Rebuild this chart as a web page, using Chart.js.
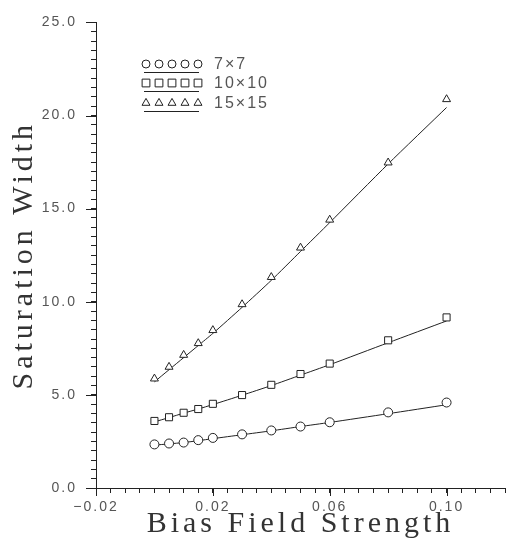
<!DOCTYPE html>
<html>
<head>
<meta charset="utf-8">
<script src="https://cdn.jsdelivr.net/npm/chart.js@4/dist/chart.umd.min.js"></script>
<style>
  html, body { margin: 0; padding: 0; background: #fff; }
  #wrap { width: 511px; height: 544px; }
</style>
</head>
<body>
<div id="wrap"><canvas id="c"></canvas></div>
<script>
// ── Data ──────────────────────────────────────────────────────────────────────
const biasField = [0.0, 0.005, 0.01, 0.015, 0.02, 0.03, 0.04, 0.05, 0.06, 0.08, 0.10];

const width7  = [2.34, 2.39, 2.44, 2.57, 2.69, 2.88, 3.09, 3.30, 3.53, 4.06, 4.59];
const width10 = [3.60, 3.80, 4.04, 4.24, 4.52, 4.99, 5.54, 6.12, 6.68, 7.93, 9.16];
const width15 = [5.87, 6.50, 7.14, 7.77, 8.47, 9.86, 11.32, 12.90, 14.40, 17.47, 20.87];

// fitted curves drawn through the symbols
const fit7  = [2.30, 2.37, 2.44, 2.54, 2.65, 2.86, 3.07, 3.30, 3.52, 3.99, 4.47];
const fit10 = [3.55, 3.78, 4.02, 4.24, 4.48, 4.98, 5.50, 6.06, 6.62, 7.80, 8.97];
const fit15 = [5.70, 6.35, 7.00, 7.65, 8.30, 9.70, 11.15, 12.70, 14.25, 17.40, 20.43];

const seriesLabels = ['7×7', '10×10', '15×15'];
const xLabelTicks  = [-0.02, 0.02, 0.06, 0.10];
const yLabelTicks  = [0, 5, 10, 15, 20, 25];

const INK   = '#222';
const LABEL = '#555';

const pts = ys => biasField.map((x, i) => ({ x, y: ys[i] }));

function markerSet(label, ys, style, radius) {
  return {
    label, data: pts(ys), showLine: false,
    pointStyle: style, pointRadius: radius, pointHoverRadius: radius,
    pointBorderColor: INK, pointBackgroundColor: '#fff', pointBorderWidth: 1,
  };
}
function fitSet(ys) {
  return {
    label: '', data: pts(ys), showLine: true, pointRadius: 0,
    borderColor: INK, borderWidth: 1, tension: 0.2, fill: false,
  };
}

const isLabelX = v => xLabelTicks.some(t => Math.abs(t - v) < 1e-6);
const isLabelY = v => yLabelTicks.some(t => Math.abs(t - v) < 1e-6);

// ── Plugins: letter spacing, longer major ticks, stacked-symbol legend ────────
const spacing = {
  id: 'spacing',
  beforeDraw(chart) {
    chart.ctx.letterSpacing = '2px';
    // axis titles are spaced wider than tick labels
    Object.values(chart.scales).forEach(s => {
      if (s._wideTitle) return;
      const orig = s.drawTitle;
      s.drawTitle = function () {
        const prev = this.ctx.letterSpacing;
        this.ctx.letterSpacing = '4px';
        orig.apply(this, arguments);
        this.ctx.letterSpacing = prev;
      };
      s._wideTitle = true;
    });
  },
};

const majorTicks = {
  id: 'majorTicks',
  afterDraw(chart) {
    const { ctx, scales: { x, y }, chartArea } = chart;
    ctx.save();
    ctx.strokeStyle = INK;
    ctx.lineWidth = 1;
    ctx.beginPath();
    xLabelTicks.forEach(v => {
      const px = Math.round(x.getPixelForValue(v)) + 0.5;
      ctx.moveTo(px, chartArea.bottom);
      ctx.lineTo(px, chartArea.bottom + 8);
    });
    yLabelTicks.forEach(v => {
      const py = Math.round(y.getPixelForValue(v)) + 0.5;
      ctx.moveTo(chartArea.left, py);
      ctx.lineTo(chartArea.left - 10, py);
    });
    ctx.stroke();
    ctx.restore();
  }
};

const symbolLegend = {
  id: 'symbolLegend',
  afterDraw(chart) {
    const { ctx } = chart;
    const rows = [
      { style: 'circle',   r: 4,   y: 64 },
      { style: 'rect',     r: 5.5, y: 83 },
      { style: 'triangle', r: 4.6, y: 103 },
    ];
    ctx.save();
    ctx.strokeStyle = INK;
    ctx.lineWidth = 1;
    rows.forEach((row, i) => {
      ctx.fillStyle = '#fff';
      for (let k = 0; k < 5; k++) {
        Chart.helpers.drawPoint(ctx, { pointStyle: row.style, radius: row.r, rotation: 0, borderWidth: 1 },
          146 + k * 13, row.y);
      }
      ctx.beginPath();
      ctx.moveTo(144, row.y + 8.5);
      ctx.lineTo(199, row.y + 8.5);
      ctx.stroke();
      ctx.fillStyle = LABEL;
      ctx.font = '16px "Liberation Sans"';
      ctx.letterSpacing = '2px';
      ctx.textBaseline = 'middle';
      ctx.fillText(seriesLabels[i], 214, row.y + 1);
    });
    ctx.restore();
  }
};

// ── Chart ─────────────────────────────────────────────────────────────────────
new Chart(document.getElementById('c'), {
  type: 'scatter',
  data: {
    datasets: [
      markerSet(seriesLabels[0], width7,  'circle',   4.5),
      markerSet(seriesLabels[1], width10, 'rect',     5),
      markerSet(seriesLabels[2], width15, 'triangle', 4.6),
      fitSet(fit7), fitSet(fit10), fitSet(fit15),
    ]
  },
  options: {
    responsive: true,
    maintainAspectRatio: false,
    animation: false,
    layout: { padding: { top: 14, right: 2, left: 0, bottom: 0 } },
    plugins: { legend: { display: false }, tooltip: { enabled: false } },
    scales: {
      x: {
        type: 'linear', min: -0.02, max: 0.12,
        afterFit: s => { s.height = 56; },
        border: { color: INK, width: 1 },
        grid: { drawOnChartArea: false, tickLength: 5, tickColor: INK },
        ticks: {
          stepSize: 0.005, autoSkip: false, maxRotation: 0,
          padding: 6, color: LABEL, font: { family: 'Liberation Sans', size: 14 },
          callback: v => isLabelX(v) ? v.toFixed(2).replace('-', '\u2212') : '',
        },
        title: {
          display: true, text: 'Bias Field Strength', color: '#333',
          font: { family: 'Liberation Serif', size: 30 }, padding: { top: 0, bottom: 2 },
        },
      },
      y: {
        type: 'linear', min: 0, max: 25,
        afterFit: s => { s.width = 96; },
        border: { color: INK, width: 1 },
        grid: { drawOnChartArea: false, tickLength: 5, tickColor: INK },
        ticks: {
          stepSize: 0.5, autoSkip: false,
          padding: 14, color: LABEL, font: { family: 'Liberation Sans', size: 14 },
          callback: v => isLabelY(v) ? v.toFixed(1) : '',
        },
        title: {
          display: true, text: 'Saturation Width', color: '#333',
          font: { family: 'Liberation Serif', size: 30 }, padding: { top: 6, bottom: 0 },
        },
      },
    },
  },
  plugins: [spacing, majorTicks, symbolLegend],
});
</script>
</body>
</html>
